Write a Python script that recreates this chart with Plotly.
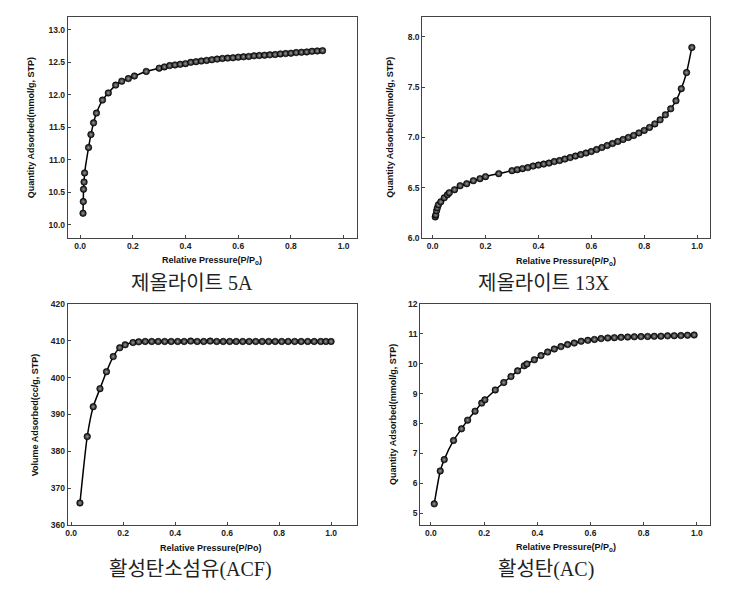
import plotly.graph_objects as go

# ---- Data ----
x_5a = [0.011, 0.012, 0.013, 0.015, 0.017, 0.032, 0.041, 0.051, 0.062, 0.085, 0.107, 0.135, 0.158, 0.183, 0.206, 0.251,
        0.30, 0.32, 0.34, 0.36, 0.38, 0.40, 0.42, 0.44, 0.46, 0.48, 0.50, 0.52, 0.54, 0.56, 0.58, 0.60,
        0.62, 0.64, 0.66, 0.68, 0.70, 0.72, 0.74, 0.76, 0.78, 0.80, 0.82, 0.84, 0.86, 0.88, 0.90, 0.92]
y_5a = [10.18, 10.36, 10.55, 10.66, 10.80, 11.19, 11.39, 11.57, 11.72, 11.92, 12.03, 12.15, 12.21, 12.25, 12.29, 12.36,
        12.41, 12.43, 12.45, 12.46, 12.47, 12.48, 12.50, 12.51, 12.52, 12.53, 12.54, 12.55, 12.56, 12.565, 12.57, 12.58,
        12.585, 12.59, 12.60, 12.605, 12.61, 12.615, 12.62, 12.63, 12.635, 12.64, 12.65, 12.655, 12.66, 12.67, 12.675, 12.68]

x_13x = [0.010, 0.012, 0.015, 0.018, 0.022, 0.031, 0.044, 0.056, 0.063, 0.083, 0.104, 0.129, 0.154, 0.179, 0.20, 0.25,
         0.30, 0.32, 0.34, 0.36, 0.38, 0.40, 0.42, 0.44, 0.46, 0.48, 0.50, 0.52, 0.54, 0.56, 0.58, 0.60,
         0.62, 0.64, 0.66, 0.68, 0.70, 0.72, 0.74, 0.76, 0.78, 0.80, 0.82, 0.84, 0.86, 0.88, 0.90, 0.92,
         0.94, 0.96, 0.98]
y_13x = [6.21, 6.23, 6.27, 6.30, 6.33, 6.36, 6.40, 6.43, 6.45, 6.48, 6.52, 6.54, 6.57, 6.59, 6.61, 6.64,
         6.67, 6.68, 6.69, 6.70, 6.715, 6.725, 6.735, 6.745, 6.76, 6.77, 6.785, 6.80, 6.815, 6.83, 6.845, 6.86,
         6.88, 6.90, 6.92, 6.94, 6.96, 6.98, 7.00, 7.02, 7.045, 7.07, 7.10, 7.135, 7.175, 7.225, 7.285, 7.365,
         7.485, 7.645, 7.895]

x_acf = [0.034, 0.062, 0.085, 0.111, 0.136, 0.162, 0.187, 0.208, 0.238,
         0.26, 0.285, 0.31, 0.335, 0.36, 0.385, 0.41, 0.435, 0.46, 0.485, 0.51, 0.535, 0.56, 0.585, 0.61,
         0.635, 0.66, 0.685, 0.71, 0.735, 0.76, 0.785, 0.81, 0.835, 0.86, 0.885, 0.91, 0.935, 0.96, 0.98, 1.0]
y_acf = [366.0, 384.0, 392.1, 397.0, 401.6, 405.7, 408.1, 408.9, 409.5,
         409.7, 409.8, 409.8, 409.8, 409.8, 409.8, 409.8, 409.8, 409.9, 409.8, 409.8, 409.9, 409.8, 409.8, 409.8,
         409.8, 409.8, 409.8, 409.8, 409.8, 409.8, 409.8, 409.8, 409.8, 409.8, 409.8, 409.8, 409.8, 409.8, 409.8, 409.8]

x_ac = [0.0125, 0.035, 0.05, 0.085, 0.115, 0.138, 0.166, 0.191, 0.203, 0.242, 0.274, 0.301, 0.326, 0.351, 0.361,
        0.389, 0.414, 0.439, 0.464, 0.489, 0.514, 0.539, 0.565, 0.59, 0.615, 0.64, 0.665, 0.69, 0.715, 0.74,
        0.765, 0.79, 0.815, 0.84, 0.865, 0.89, 0.915, 0.94, 0.965, 0.99]
y_ac = [5.31, 6.41, 6.79, 7.43, 7.82, 8.11, 8.41, 8.68, 8.79, 9.12, 9.37, 9.57, 9.76, 9.93, 9.99,
        10.13, 10.27, 10.39, 10.49, 10.57, 10.64, 10.69, 10.75, 10.78, 10.81, 10.84, 10.86, 10.87, 10.88, 10.89,
        10.90, 10.905, 10.91, 10.915, 10.92, 10.93, 10.935, 10.94, 10.95, 10.96]

captions = ["제올라이트 5A", "제올라이트 13X", "활성탄소섬유(ACF)", "활성탄(AC)"]
y_titles = ["Quantity Adsorbed(mmol/g, STP)", "Quantity Adsorbed(mmol/g, STP)",
            "Volume Adsorbed(cc/g, STP)", "Quantity Adsorbed(mmol/g, STP)"]
x_titles = ["Relative Pressure(P/P<sub>o</sub>)", "Relative Pressure(P/P<sub>o</sub>)",
            "Relative Pressure(P/Po)", "Relative Pressure(P/P<sub>o</sub>)"]

W, H = 736, 593

panels = [
    dict(x=x_5a, y=y_5a, px=(65, 355), py=(12, 237), xr=[-0.047, 1.049], yr=[9.8, 13.2],
         yt=[10.0, 10.5, 11.0, 11.5, 12.0, 12.5, 13.0], yfmt=".1f",
         ytx=29, xtx=210, xty=260, capx=190, capy=283),
    dict(x=x_13x, y=y_13x, px=(421, 710), py=(12, 237), xr=[-0.039, 1.049], yr=[6.0, 8.2],
         yt=[6.0, 6.5, 7.0, 7.5, 8.0], yfmt=".1f",
         ytx=389, xtx=565, xty=261, capx=543, capy=283),
    dict(x=x_acf, y=y_acf, px=(65, 355), py=(304, 529), xr=[-0.013, 1.098], yr=[360, 420],
         yt=[360, 370, 380, 390, 400, 410, 420], yfmt="d",
         ytx=33, xtx=209, xty=552, capx=188, capy=574),
    dict(x=x_ac, y=y_ac, px=(419, 710), py=(304, 529), xr=[-0.04, 1.05], yr=[4.6, 12.0],
         yt=[5, 6, 7, 8, 9, 10, 11, 12], yfmt="d",
         ytx=392, xtx=565, xty=552, capx=545, capy=574),
]

fig = go.Figure()
tickfont = dict(family="Liberation Sans, Arial", size=8.5, color="#222", weight="bold")
titlefont = dict(family="Liberation Sans, Arial", size=9, color="#111", weight="bold")
annotations = []

for i, p in enumerate(panels):
    n = i + 1
    xa = "x" if n == 1 else f"x{n}"
    ya = "y" if n == 1 else f"y{n}"
    fig.add_trace(go.Scatter(
        x=p["x"], y=p["y"], xaxis=xa, yaxis=ya, mode="lines+markers",
        line=dict(color="black", width=1.5, shape="spline", smoothing=0.6),
        marker=dict(size=6.5, color="#0a0a0a", gradient=dict(type="radial", color="#9a9a9a"),
                    line=dict(color="black", width=0.6)),
        showlegend=False, hoverinfo="skip"))
    common = dict(showgrid=False, zeroline=False, showline=True, linecolor="#444", linewidth=1,
                  mirror=True, ticks="inside", ticklen=3, tickwidth=1, tickcolor="#444",
                  tickfont=tickfont)
    fig.update_layout({
        ("xaxis" if n == 1 else f"xaxis{n}"): dict(
            domain=[p["px"][0] / W, p["px"][1] / W], anchor=ya, range=p["xr"],
            tickvals=[0, 0.2, 0.4, 0.6, 0.8, 1.0], tickformat=".1f", **common),
        ("yaxis" if n == 1 else f"yaxis{n}"): dict(
            domain=[1 - p["py"][1] / H, 1 - p["py"][0] / H], anchor=xa, range=p["yr"],
            tickvals=p["yt"], tickformat=p["yfmt"], **common),
    })
    annotations.append(dict(text=y_titles[i], x=p["ytx"] / W, y=1 - (p["py"][0] + p["py"][1]) / 2 / H,
                            xref="paper", yref="paper", textangle=-90, showarrow=False,
                            font=titlefont, xanchor="center", yanchor="middle"))
    annotations.append(dict(text=x_titles[i], x=p["xtx"] / W, y=1 - p["xty"] / H,
                            xref="paper", yref="paper", showarrow=False,
                            font=titlefont, xanchor="center", yanchor="middle"))
    annotations.append(dict(text=captions[i], x=p["capx"] / W, y=1 - p["capy"] / H,
                            xref="paper", yref="paper", showarrow=False,
                            font=dict(family="Liberation Serif, Noto Sans CJK KR", size=20, color="#222"),
                            xanchor="center", yanchor="middle"))

fig.update_layout(width=W, height=H, margin=dict(l=0, r=0, t=0, b=0),
                  paper_bgcolor="white", plot_bgcolor="white", annotations=annotations)

fig.write_html("out.html")
